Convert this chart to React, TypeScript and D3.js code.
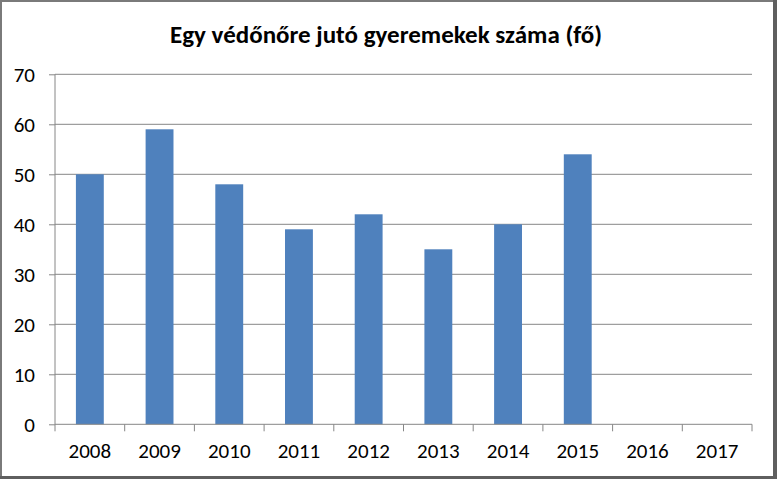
import { useEffect, useRef } from 'react';
import * as d3 from 'd3';

const years = ['2008', '2009', '2010', '2011', '2012', '2013', '2014', '2015', '2016', '2017'];
const children: (number | null)[] = [50, 59, 48, 39, 42, 35, 40, 54, null, null];
const yTicks = [0, 10, 20, 30, 40, 50, 60, 70];
const title = 'Egy védőnőre jutó gyeremekek száma (fő)';

const W = 777;
const H = 479;

const App = () => {
  const ref = useRef<SVGSVGElement | null>(null);

  useEffect(() => {
    const svg = d3.select(ref.current);
    svg.selectAll('*').remove();

    const margin = { top: 74.3, right: 25, bottom: 54.7, left: 55 };
    const width = W - margin.left - margin.right;
    const height = H - margin.top - margin.bottom;
    const font = "Carlito, 'Liberation Sans', Arial, sans-serif";

    svg.append('rect').attr('width', W).attr('height', H).attr('fill', '#fff');

    // outer frame (thicker on right/bottom like a shadow)
    svg.append('rect').attr('x', 0).attr('y', 0).attr('width', W).attr('height', 2).attr('fill', '#7a7a7a');
    svg.append('rect').attr('x', 0).attr('y', 0).attr('width', 2).attr('height', H).attr('fill', '#7a7a7a');
    svg.append('rect').attr('x', W - 4).attr('y', 0).attr('width', 4).attr('height', H).attr('fill', '#5f5f5f');
    svg.append('rect').attr('x', 0).attr('y', H - 3).attr('width', W).attr('height', 3).attr('fill', '#5f5f5f');

    svg.append('text')
      .attr('x', 386)
      .attr('y', 43)
      .attr('text-anchor', 'middle')
      .attr('font-family', font)
      .attr('font-weight', 'bold')
      .attr('font-size', 25)
      .attr('fill', '#000')
      .text(title);

    const g = svg.append('g').attr('transform', `translate(${margin.left},${margin.top})`);

    const x = d3.scaleBand().domain(years).range([0, width]).paddingInner(0.6).paddingOuter(0.3);
    const xb = d3.scaleBand().domain(years).range([0, width]);
    const y = d3.scaleLinear().domain([0, 70]).range([height, 0]);

    // gridlines
    g.selectAll('.grid')
      .data(yTicks.filter(t => t > 0))
      .enter().append('line')
      .attr('x1', 0)
      .attr('x2', width)
      .attr('y1', d => y(d))
      .attr('y2', d => y(d))
      .attr('stroke', '#868686')
      .attr('stroke-width', 1);

    // bars
    g.selectAll('.bar')
      .data(years.map((yr, i) => ({ yr, v: children[i] })).filter(d => d.v !== null))
      .enter().append('rect')
      .attr('x', d => x(d.yr)!)
      .attr('width', x.bandwidth())
      .attr('y', d => y(d.v as number))
      .attr('height', d => height - y(d.v as number))
      .attr('fill', '#4f81bd');

    // y axis
    const yAxis = g.append('g')
      .call(d3.axisLeft(y).tickValues(yTicks).tickSize(6).tickPadding(14));
    yAxis.select('.domain').attr('stroke', '#868686').attr('d', `M0,0V${height}`);
    yAxis.selectAll('.tick line').attr('stroke', '#868686');
    yAxis.selectAll('.tick text')
      .attr('font-family', font)
      .attr('font-size', 21)
      .attr('fill', '#000');

    // x axis with ticks at category boundaries
    const xAxis = g.append('g').attr('transform', `translate(0,${height})`);
    xAxis.append('line').attr('x1', 0).attr('x2', width).attr('stroke', '#868686');
    xAxis.selectAll('.xt')
      .data([...years.map(yr => xb(yr)!), width])
      .enter().append('line')
      .attr('x1', d => d)
      .attr('x2', d => d)
      .attr('y1', 0)
      .attr('y2', 7)
      .attr('stroke', '#868686');
    xAxis.selectAll('.xl')
      .data(years)
      .enter().append('text')
      .attr('x', d => xb(d)! + xb.bandwidth() / 2)
      .attr('y', 33.7)
      .attr('text-anchor', 'middle')
      .attr('font-family', font)
      .attr('font-size', 21)
      .attr('fill', '#000')
      .text(d => d);
  }, []);

  return (
    <svg
      ref={ref}
      width={W}
      height={H}
      style={{ position: 'absolute', left: 0, top: 0, display: 'block' }}
    />
  );
};

export default App;
